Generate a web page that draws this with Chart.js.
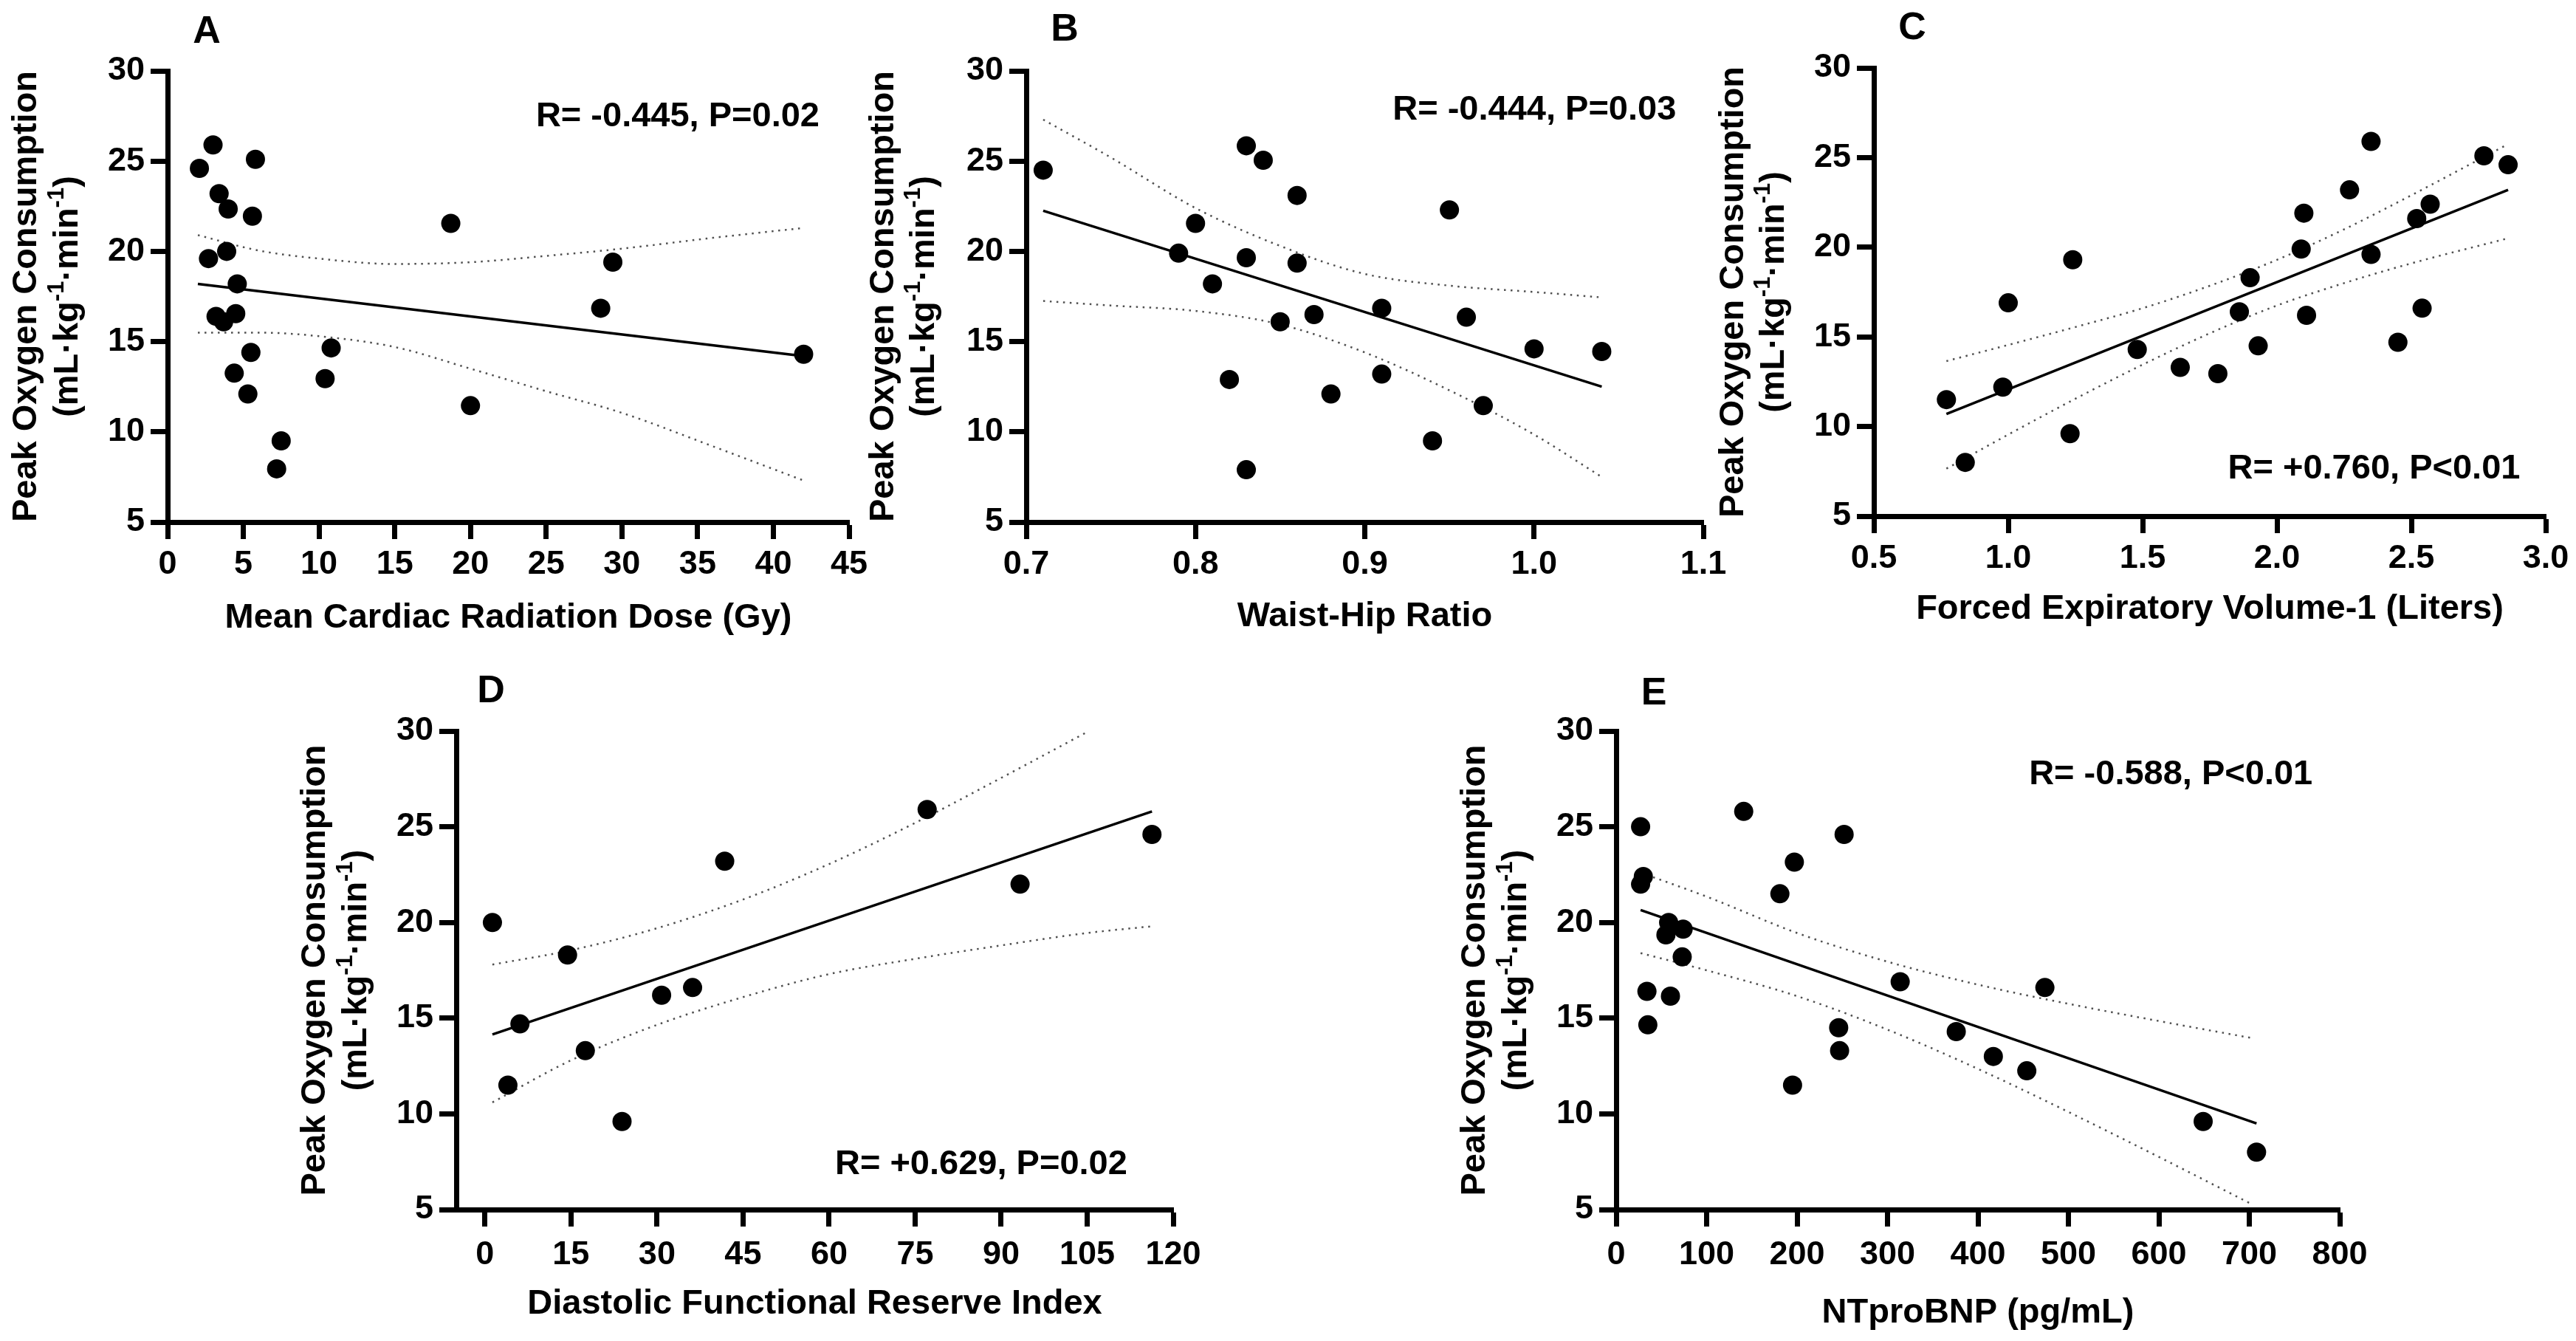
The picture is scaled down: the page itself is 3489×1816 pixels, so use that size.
<!DOCTYPE html>
<html>
<head>
<meta charset="utf-8">
<script src="https://cdn.jsdelivr.net/npm/chart.js@4.4.1/dist/chart.umd.min.js"></script>
<style>
  html, body { margin: 0; padding: 0; background: #fff; }
  body { width: 3489px; height: 1816px; position: relative; overflow: hidden; }
  canvas { position: absolute; }
</style>
</head>
<body>
<canvas id="chartA"></canvas>
<canvas id="chartB"></canvas>
<canvas id="chartC"></canvas>
<canvas id="chartD"></canvas>
<canvas id="chartE"></canvas>
<script>
// ---- data ----
const yTicks = [5, 10, 15, 20, 25, 30];

// A: mean cardiac radiation dose (Gy)
const aTicks = [0, 5, 10, 15, 20, 25, 30, 35, 40, 45];
const aX = [2.1, 3.0, 2.7, 3.4, 4.0, 3.9, 4.6, 3.2, 3.7, 4.5, 4.4, 5.5, 5.3, 5.8, 5.6, 7.5, 7.2, 10.8, 10.4, 18.7, 20.0, 28.6, 29.4, 42.0];
const aY = [24.6, 25.9, 19.6, 23.2, 22.35, 20.0, 18.2, 16.4, 16.1, 16.55, 13.25, 14.4, 12.1, 25.1, 21.95, 9.5, 7.95, 14.65, 12.95, 21.55, 11.45, 16.85, 19.4, 14.3];
const aFitX = [2.0, 42.0];
const aFitY = [18.2, 14.2];
const aBandX = [2.0, 6.0, 10.0, 15.0, 20.0, 25.0, 30.0, 36.0, 42.0];
const aUpper = [20.9, 20.05, 19.6, 19.3, 19.4, 19.75, 20.15, 20.75, 21.3];
const aLower = [15.5, 15.5, 15.3, 14.7, 13.5, 12.25, 11.05, 9.2, 7.3];

// B: waist-hip ratio
const bTicks = [0.7, 0.8, 0.9, 1.0, 1.1];
const bX = [0.71, 0.79, 0.80, 0.81, 0.82, 0.83, 0.83, 0.83, 0.84, 0.85, 0.86, 0.86, 0.87, 0.88, 0.91, 0.91, 0.94, 0.95, 0.96, 0.97, 1.00, 1.04];
const bY = [24.5, 19.9, 21.55, 18.2, 12.9, 25.85, 19.65, 7.9, 25.05, 16.1, 23.1, 19.35, 16.5, 12.1, 16.85, 13.2, 9.5, 22.3, 16.35, 11.45, 14.6, 14.45];
const bFitX = [0.71, 1.04];
const bFitY = [22.25, 12.5];
const bBandX = [0.71, 0.75, 0.80, 0.85, 0.90, 0.95, 1.00, 1.04];
const bUpper = [27.3, 25.2, 22.4, 20.3, 18.75, 18.1, 17.75, 17.45];
const bLower = [17.25, 17.0, 16.7, 15.95, 14.4, 12.3, 9.85, 7.5];

// C: forced expiratory volume-1 (L)
const cTicks = [0.5, 1.0, 1.5, 2.0, 2.5, 3.0];
const cX = [0.77, 0.84, 0.98, 1.0, 1.23, 1.24, 1.48, 1.64, 1.78, 1.86, 1.90, 1.93, 2.09, 2.10, 2.11, 2.27, 2.35, 2.35, 2.45, 2.52, 2.54, 2.57, 2.77, 2.86];
const cY = [11.5, 8.0, 12.2, 16.9, 9.6, 19.3, 14.3, 13.3, 12.95, 16.4, 18.3, 14.5, 19.9, 21.9, 16.2, 23.2, 25.9, 19.6, 14.7, 21.6, 16.6, 22.4, 25.1, 24.6];
const cFitX = [0.77, 2.86];
const cFitY = [10.7, 23.2];
const cBandX = [0.77, 1.0, 1.25, 1.5, 1.75, 2.0, 2.25, 2.5, 2.86];
const cUpper = [13.65, 14.55, 15.55, 16.6, 17.85, 19.3, 21.0, 22.9, 25.75];
const cLower = [7.65, 9.55, 11.55, 13.45, 15.2, 16.75, 18.0, 19.1, 20.5];

// D: diastolic functional reserve index
const dTicks = [0, 15, 30, 45, 60, 75, 90, 105, 120];
const dX = [1.3, 4.0, 6.1, 14.4, 17.5, 23.9, 30.8, 36.2, 41.8, 77.1, 93.3, 116.3];
const dY = [20.0, 11.5, 14.7, 18.3, 13.3, 9.6, 16.2, 16.6, 23.2, 25.9, 22.0, 24.6];
const dFitX = [1.3, 116.3];
const dFitY = [14.15, 25.8];
const dBandX = [1.3, 15, 30, 45, 60, 75, 90, 105, 116.3];
const dUpper = [17.8, 18.55, 19.7, 21.2, 23.05, 25.2, 27.55, 29.95, null];
const dLower = [10.6, 12.8, 14.65, 16.1, 17.3, 18.1, 18.8, 19.45, 19.8];

// E: NTproBNP (pg/mL)
const eTicks = [0, 100, 200, 300, 400, 500, 600, 700, 800];
const eX = [27, 30, 27, 58, 55, 74, 73, 34, 60, 35, 141, 181, 197, 252, 195, 246, 247, 314, 376, 417, 454, 474, 649, 708];
const eY = [25.0, 22.4, 22.0, 20.0, 19.35, 19.65, 18.2, 16.4, 16.15, 14.65, 25.8, 21.5, 23.15, 24.6, 11.5, 14.5, 13.3, 16.9, 14.3, 13.0, 12.25, 16.6, 9.6, 8.0];
const eFitX = [27, 708];
const eFitY = [20.65, 9.5];
const eBandX = [27, 100, 200, 300, 400, 500, 600, 704];
const eUpper = [22.6, 21.35, 19.45, 17.95, 16.75, 15.75, 14.85, 13.95];
const eLower = [18.4, 17.5, 16.15, 14.4, 12.35, 10.1, 7.75, 5.25];

// ---- drawing ----
const FONT = '"Liberation Sans", Arial, Helvetica, sans-serif';
const PAD = { left: 270, right: 90, top: 90, bottom: 190 };
const WY = 110, HX = 120;

const xy = (xs, ys) => xs.map((x, i) => ({ x: x, y: ys[i] }));

function drawYTitle(ctx, x1, x2, cy) {
  ctx.save();
  ctx.translate(x1, cy);
  ctx.rotate(-Math.PI / 2);
  ctx.font = 'bold 47px ' + FONT;
  ctx.textAlign = 'center';
  ctx.textBaseline = 'middle';
  ctx.fillText('Peak Oxygen Consumption', 0, 0);
  ctx.restore();

  ctx.save();
  ctx.translate(x2, cy);
  ctx.rotate(-Math.PI / 2);
  const parts = [['(mL\u00b7kg', 0], ['-1', 1], ['\u00b7min', 0], ['-1', 1], [')', 0]];
  const big = 'bold 47px ' + FONT, small = 'bold 31px ' + FONT;
  let total = 0;
  parts.forEach(([t, s]) => { ctx.font = s ? small : big; total += ctx.measureText(t).width; });
  let x = -total / 2;
  ctx.textAlign = 'left';
  ctx.textBaseline = 'middle';
  parts.forEach(([t, s]) => {
    ctx.font = s ? small : big;
    ctx.fillText(t, x, s ? -15 : 0);
    x += ctx.measureText(t).width;
  });
  ctx.restore();
}

const panelText = {
  id: 'panelText',
  afterDraw(chart, args, o) {
    const ctx = chart.ctx, a = chart.chartArea;
    const xs = chart.scales.x, ys = chart.scales.y;
    ctx.save();
    ctx.fillStyle = '#000';
    ctx.textBaseline = 'middle';

    ctx.font = 'bold 52px ' + FONT;
    ctx.textAlign = 'center';
    ctx.fillText(o.letter, a.left + o.letterDx, a.top - o.letterDy);

    ctx.font = 'bold 47px ' + FONT;
    ctx.textAlign = 'right';
    ctx.fillText(o.rText, xs.getPixelForValue(o.rAt[0]), ys.getPixelForValue(o.rAt[1]));

    ctx.textAlign = 'center';
    ctx.fillText(o.xTitle, (a.left + a.right) / 2, a.bottom + o.xTitleDy);

    drawYTitle(ctx, a.left - o.yT1, a.left - o.yT2, (a.top + a.bottom) / 2);
    ctx.restore();
  }
};

function axisCommon(ticks, pad, fmt) {
  return {
    type: 'linear',
    afterBuildTicks: s => { s.ticks = ticks.map(v => ({ value: v })); },
    border: { display: true, color: '#000', width: 7 },
    grid: { display: true, drawOnChartArea: false, drawTicks: true, tickLength: 23, tickWidth: 7, tickColor: '#000' },
    ticks: {
      color: '#000', padding: pad, maxRotation: 0, autoSkip: false,
      font: { family: FONT, size: 45, weight: 'bold' },
      callback: fmt
    }
  };
}

function buildPanel(p) {
  const el = document.getElementById(p.id);
  const b = p.box;
  el.width = b.right - b.left + PAD.left + PAD.right;
  el.height = b.bottom - b.top + PAD.top + PAD.bottom;
  el.style.left = (b.left - PAD.left) + 'px';
  el.style.top = (b.top - PAD.top) + 'px';

  const xAxis = axisCommon(p.xTicks, p.xPad, v => v.toFixed(p.dec));
  xAxis.min = p.xMin; xAxis.max = p.xMax;
  xAxis.afterFit = s => { s.height = HX; s.paddingLeft = 0; s.paddingRight = 0; };
  const yAxis = axisCommon(yTicks, 8, v => String(v));
  yAxis.min = 5; yAxis.max = 30;
  yAxis.afterFit = s => { s.width = WY; s.paddingTop = 0; s.paddingBottom = 0; };

  const band = (ys) => ({
    type: 'line', data: xy(p.bandX, ys), borderColor: '#505050', borderWidth: 2.5,
    borderDash: [2.5, 6.5], pointRadius: 0, cubicInterpolationMode: 'monotone', spanGaps: false, fill: false
  });

  new Chart(el, {
    type: 'scatter',
    data: {
      datasets: [
        { data: xy(p.px, p.py), backgroundColor: '#000', borderWidth: 0, pointRadius: 13, pointHoverRadius: 13 },
        { type: 'line', data: xy(p.fitX, p.fitY), borderColor: '#000', borderWidth: 3.5, pointRadius: 0, fill: false },
        band(p.up),
        band(p.lo)
      ]
    },
    options: {
      responsive: false,
      animation: false,
      events: [],
      layout: { padding: { left: PAD.left - WY, right: PAD.right, top: PAD.top, bottom: PAD.bottom - HX } },
      scales: { x: xAxis, y: yAxis },
      plugins: {
        legend: { display: false },
        tooltip: { enabled: false },
        panelText: p.text
      }
    },
    plugins: [panelText]
  });
}

const panels = [
  { id: 'chartA', box: { left: 227, right: 1150, top: 96, bottom: 707 }, xMin: 0, xMax: 45, xTicks: aTicks, dec: 0, xPad: 8,
    px: aX, py: aY, fitX: aFitX, fitY: aFitY, bandX: aBandX, up: aUpper, lo: aLower,
    text: { letter: 'A', letterDx: 53, letterDy: 52, rText: 'R= -0.445, P=0.02', rAt: [43.05, 27.46],
            xTitle: 'Mean Cardiac Radiation Dose (Gy)', xTitleDy: 130, yT1: 191, yT2: 135 } },
  { id: 'chartB', box: { left: 1390, right: 2307, top: 96, bottom: 707 }, xMin: 0.7, xMax: 1.1, xTicks: bTicks, dec: 1, xPad: 8,
    px: bX, py: bY, fitX: bFitX, fitY: bFitY, bandX: bBandX, up: bUpper, lo: bLower,
    text: { letter: 'B', letterDx: 52, letterDy: 55, rText: 'R= -0.444, P=0.03', rAt: [1.084, 27.83],
            xTitle: 'Waist-Hip Ratio', xTitleDy: 128, yT1: 193, yT2: 138 } },
  { id: 'chartC', box: { left: 2538, right: 3448, top: 92, bottom: 699 }, xMin: 0.5, xMax: 3.0, xTicks: cTicks, dec: 1, xPad: 8,
    px: cX, py: cY, fitX: cFitX, fitY: cFitY, bandX: cBandX, up: cUpper, lo: cLower,
    text: { letter: 'C', letterDx: 52, letterDy: 53, rText: 'R= +0.760, P<0.01', rAt: [2.905, 7.65],
            xTitle: 'Forced Expiratory Volume-1 (Liters)', xTitleDy: 126, yT1: 190, yT2: 135 } },
  { id: 'chartD', box: { left: 618, right: 1589, top: 990, bottom: 1638 }, xMin: -5, xMax: 120, xTicks: dTicks, dec: 0, xPad: 12,
    px: dX, py: dY, fitX: dFitX, fitY: dFitY, bandX: dBandX, up: dUpper, lo: dLower,
    text: { letter: 'D', letterDx: 47, letterDy: 53, rText: 'R= +0.629, P=0.02', rAt: [112, 7.35],
            xTitle: 'Diastolic Functional Reserve Index', xTitleDy: 128, yT1: 191, yT2: 135 } },
  { id: 'chartE', box: { left: 2189, right: 3169, top: 990, bottom: 1638 }, xMin: 0, xMax: 800, xTicks: eTicks, dec: 0, xPad: 12,
    px: eX, py: eY, fitX: eFitX, fitY: eFitY, bandX: eBandX, up: eUpper, lo: eLower,
    text: { letter: 'E', letterDx: 51, letterDy: 50, rText: 'R= -0.588, P<0.01', rAt: [770, 27.73],
            xTitle: 'NTproBNP (pg/mL)', xTitleDy: 140, yT1: 191, yT2: 135 } }
];

panels.forEach(buildPanel);
</script>
</body>
</html>
